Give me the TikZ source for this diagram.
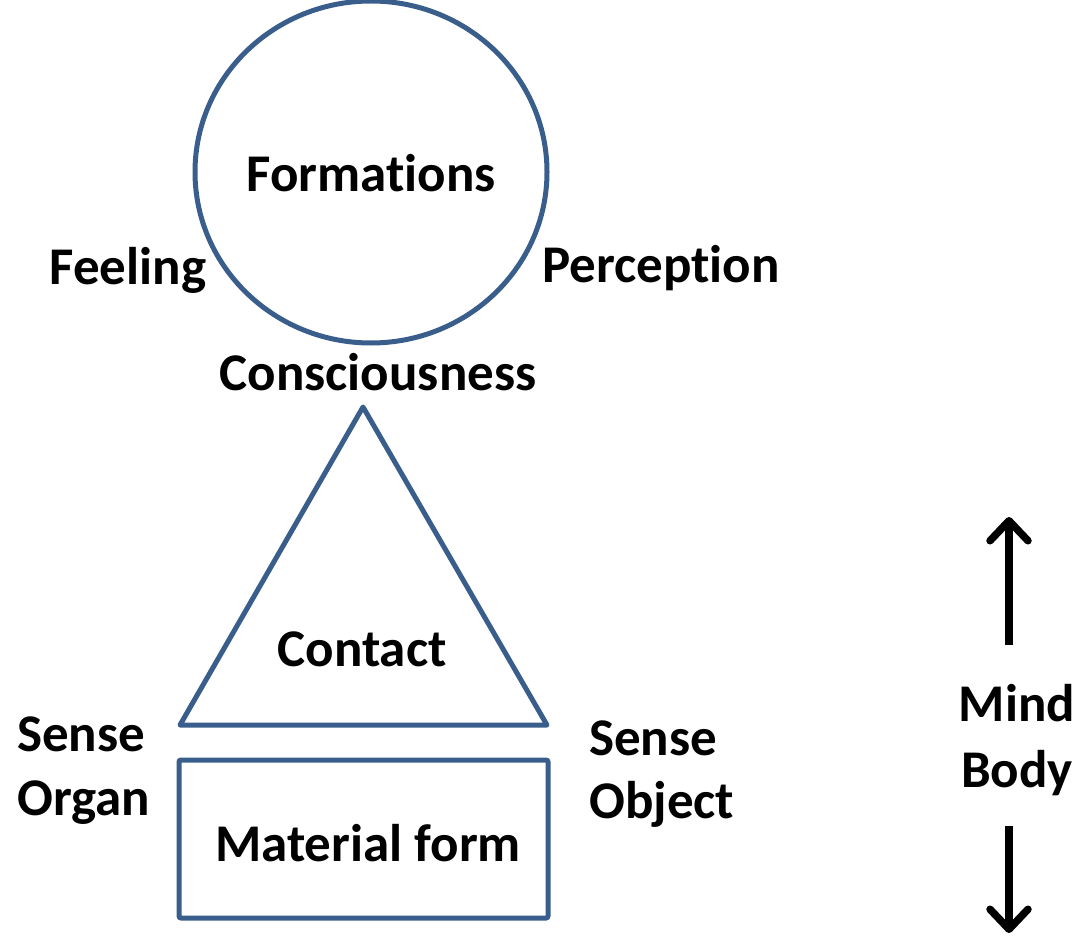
\documentclass[tikz,border=0pt]{standalone}
\usepackage{fontspec}
\setmainfont{Carlito}[Ligatures={NoCommon}]
\usetikzlibrary{arrows.meta}
\definecolor{shapeblue}{HTML}{3A5E8C}
\tikzset{
  lbl/.style={font=\fontsize{53}{65}\selectfont\bfseries, inner sep=0pt, anchor=base},
  outline/.style={draw=shapeblue, line width=5pt},
  bigarrow/.style={line width=7.5pt, -{Straight Barb[length=20pt, width=38pt, line width=7.5pt, round]}}
}
\begin{document}
\begin{tikzpicture}[x=1pt, y=-1pt]
\useasboundingbox (0,0) rectangle (1079,941);
% skandha shapes
\draw[outline] (371,172) ellipse [x radius=176, y radius=171];
\draw[outline, line join=round] (363,407) -- (180,725) -- (547,725) -- cycle;
\draw[outline, rounded corners=2pt] (179,760) rectangle (548,918);
% labels
\node[lbl] (form) at (371,192) {Formations};
\node[lbl] (feel) at (128,285) {Feeling};
\node[lbl] (perc) at (661,283) {Perception};
\node[lbl] (cons) at (378,390) {Consciousness};
\node[lbl] (cont) at (362,666) {Contact};
\node[lbl] (matf) at (368,861) {Material form};
\node[lbl, anchor=base west] (so1) at (17,751) {Sense};
\node[lbl, anchor=base west] (so2) at (17,815) {Organ};
\node[lbl, anchor=base west] (sb1) at (589,755) {Sense};
\node[lbl, anchor=base west] (sb2) at (589,818) {Object};
\node[lbl] (mind) at (1017,721) {Mind};
\node[lbl] (body) at (1017,787) {Body};
% direction arrows
\coordinate (upa) at (1009,645);
\coordinate (upb) at (1009,517);
\coordinate (dna) at (1009,826);
\coordinate (dnb) at (1009,933);
\draw[bigarrow] (upa) -- (upb);
\draw[bigarrow] (dna) -- (dnb);
\end{tikzpicture}
\end{document}
